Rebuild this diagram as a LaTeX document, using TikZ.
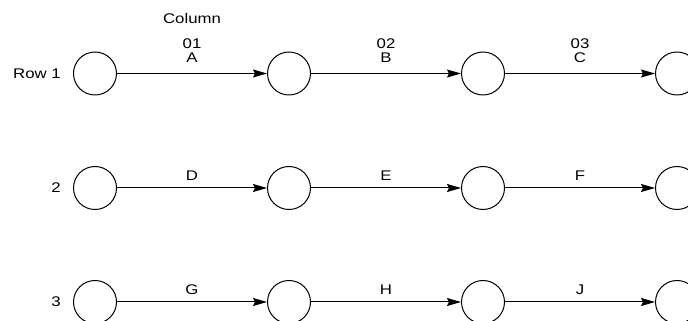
\documentclass[tikz,border=0pt]{standalone}
\usepackage{fontspec}
\setmainfont[FakeStretch=1.2]{Liberation Sans}
\usetikzlibrary{arrows.meta,calc}
\tikzset{
  evt/.style={circle, draw, line width=1pt, minimum size=43pt, inner sep=0pt},
  act/.style={line width=1pt, -{Stealth[length=14pt,width=8pt,inset=2pt]}},
  lbl/.style={font=\fontsize{14}{16}\selectfont, inner sep=0pt, anchor=base},
  rowlbl/.style={font=\fontsize{14}{16}\selectfont, inner sep=0pt, anchor=east}
}
\begin{document}
\begin{tikzpicture}[x=1pt,y=1pt]
\useasboundingbox (0,0) rectangle (688,321);
% circles
\foreach \r/\y in {1/247.5, 2/133, 3/19} {
  \foreach \c/\x in {1/95, 2/289, 3/483, 4/677} {
    \node[evt] (c\r\c) at (\x,\y) {};
  }
}
% arrows
\foreach \r in {1,2,3} {
  \draw[act] (c\r1) -- (c\r2);
  \draw[act] (c\r2) -- (c\r3);
  \draw[act] (c\r3) -- (c\r4);
}
% row labels
\node[rowlbl] (r1) at (61,247.5) {Row 1};
\node[rowlbl] (r2) at (61,133) {2};
\node[rowlbl] (r3) at (61,19) {3};
% column header
\node[lbl] (col) at ($(c11)!0.5!(c12)+(0,50)$) {Column};
\node[lbl] (n01) at ($(c11)!0.5!(c12)+(0,25)$) {01};
\node[lbl] (n02) at ($(c12)!0.5!(c13)+(0,25)$) {02};
\node[lbl] (n03) at ($(c13)!0.5!(c14)+(0,25)$) {03};
% activity labels
\node[lbl] (lA) at ($(c11)!0.5!(c12)+(0,11)$) {A};
\node[lbl] (lB) at ($(c12)!0.5!(c13)+(0,11)$) {B};
\node[lbl] (lC) at ($(c13)!0.5!(c14)+(0,11)$) {C};
\node[lbl] (lD) at ($(c21)!0.5!(c22)+(0,7)$) {D};
\node[lbl] (lE) at ($(c22)!0.5!(c23)+(0,7)$) {E};
\node[lbl] (lF) at ($(c23)!0.5!(c24)+(0,7)$) {F};
\node[lbl] (lG) at ($(c31)!0.5!(c32)+(0,7)$) {G};
\node[lbl] (lH) at ($(c32)!0.5!(c33)+(0,7)$) {H};
\node[lbl] (lJ) at ($(c33)!0.5!(c34)+(0,7)$) {J};
\end{tikzpicture}
\end{document}
